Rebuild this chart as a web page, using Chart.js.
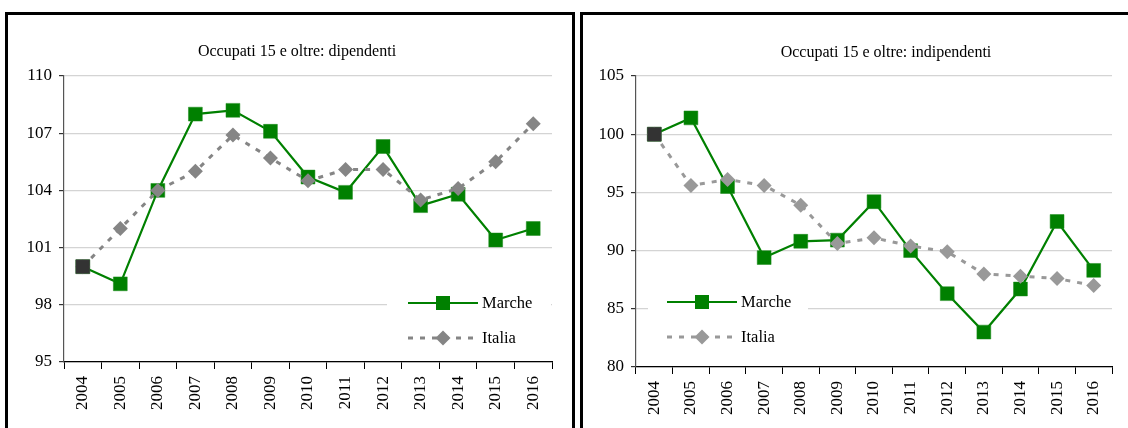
<!DOCTYPE html>
<html>
<head>
<meta charset="utf-8">
<script src="https://cdn.jsdelivr.net/npm/chart.js@4/dist/chart.umd.min.js"></script>
<style>
  html, body { margin: 0; padding: 0; background: #fff; }
  body { width: 1128px; height: 428px; overflow: hidden; position: relative; }
  .frame { position: absolute; top: 12px; height: 440px; border: 3px solid #000; box-sizing: border-box; }
  canvas { position: absolute; }
</style>
</head>
<body>
<div class="frame" style="left:5px; width:570px;"></div>
<div class="frame" style="left:580px; width:600px;"></div>
<canvas id="chart-dip" width="564" height="413" style="left:8px; top:15px;"></canvas>
<canvas id="chart-ind" width="545" height="413" style="left:583px; top:15px;"></canvas>

<script>
// data (index 2004 = 100)
const years = ['2004', '2005', '2006', '2007', '2008', '2009', '2010', '2011', '2012', '2013', '2014', '2015', '2016'];

const dipMarche = [100, 99.1, 104.0, 108.0, 108.2, 107.1, 104.7, 103.9, 106.3, 103.2, 103.8, 101.4, 102.0];
const dipItalia = [100, 102.0, 104.0, 105.0, 106.9, 105.7, 104.5, 105.1, 105.1, 103.5, 104.1, 105.5, 107.5];

const indMarche = [100, 101.4, 95.5, 89.4, 90.8, 90.9, 94.2, 90.0, 86.3, 83.0, 86.7, 92.5, 88.3];
const indItalia = [100, 95.6, 96.1, 95.6, 93.9, 90.6, 91.1, 90.4, 89.9, 88.0, 87.8, 87.6, 87.0];

// base year marker (dark square on top)
const baseYear = [100, null, null, null, null, null, null, null, null, null, null, null, null];

const seriesNames = ['Marche', 'Italia'];

Chart.defaults.font.family = '"Liberation Serif", "Times New Roman", serif';
Chart.defaults.color = '#000';

// title + legend drawn inside the panel, like the original
const panelDecor = {
    id: 'panelDecor',
    afterDraw(chart, args, opts) {
        const ctx = chart.ctx;
        ctx.save();

        // title
        ctx.fillStyle = '#000';
        ctx.font = '16px "Liberation Serif", serif';
        ctx.textAlign = 'center';
        ctx.textBaseline = 'middle';
        ctx.fillText(opts.title, opts.titleX, opts.titleY);

        // legend box
        const lg = opts.legend;
        ctx.fillStyle = '#fff';
        ctx.fillRect(lg.boxL, lg.boxT, lg.boxR - lg.boxL, lg.boxB - lg.boxT);

        chart.data.datasets.filter(ds => !ds.hideInLegend).forEach((ds, i) => {
            const y = lg.rows[i];
            ctx.beginPath();
            ctx.setLineDash(ds.borderDash || []);
            ctx.lineWidth = ds.borderWidth;
            ctx.strokeStyle = ds.borderColor;
            ctx.moveTo(lg.x0, y);
            ctx.lineTo(lg.x1, y);
            ctx.stroke();
            ctx.setLineDash([]);

            ctx.fillStyle = ds.legendColor;
            const r = ds.legendRadius;
            ctx.beginPath();
            if (ds.pointStyle === 'rectRot') {
                ctx.moveTo(lg.mx, y - r);
                ctx.lineTo(lg.mx + r, y);
                ctx.lineTo(lg.mx, y + r);
                ctx.lineTo(lg.mx - r, y);
                ctx.closePath();
            } else {
                ctx.rect(lg.mx - r, y - r, 2 * r, 2 * r);
            }
            ctx.fill();

            ctx.fillStyle = '#000';
            ctx.font = '16.5px "Liberation Serif", serif';
            ctx.textAlign = 'left';
            ctx.textBaseline = 'middle';
            ctx.fillText(ds.label, lg.tx, y + 1);
        });
        ctx.restore();
    }
};

function makeChart(id, marche, italia, yMin, yMax, yStep, italiaColor, layout) {
    const ctx = document.getElementById(id);

    const config = {
        type: 'line',
        data: {
            labels: years,
            datasets: [{
                label: seriesNames[0],
                data: marche,
                order: 2,
                borderColor: '#008000',
                borderWidth: 2.2,
                pointStyle: 'rect',
                pointRadius: 9.8,
                pointBorderWidth: 0.5,
                pointBackgroundColor: '#008000',
                pointBorderColor: '#1a8a1a',
                legendColor: '#008000',
                legendRadius: 7,
                tension: 0
            }, {
                label: seriesNames[1],
                data: italia,
                order: 1,
                borderColor: italiaColor,
                borderWidth: 3,
                borderDash: [5, 7],
                pointStyle: 'rectRot',
                pointRadius: 7.5,
                pointBorderWidth: 0,
                pointBackgroundColor: italiaColor,
                legendColor: italiaColor,
                legendRadius: 7.5,
                tension: 0
            }, {
                label: 'base',
                data: baseYear,
                order: 0,
                hideInLegend: true,
                showLine: false,
                pointStyle: 'rect',
                pointRadius: 9.8,
                pointBorderWidth: 0.5,
                pointBackgroundColor: '#333333',
                pointBorderColor: '#444444'
            }]
        },
        options: {
            responsive: false,
            animation: false,
            events: [],
            layout: {
                padding: { top: layout.top, right: layout.right, left: 0, bottom: 0 }
            },
            plugins: {
                legend: { display: false },
                title: { display: false },
                tooltip: { enabled: false },
                panelDecor: layout.decor
            },
            scales: {
                x: {
                    offset: true,
                    afterFit: (scale) => { scale.height = layout.xHeight; },
                    grid: {
                        offset: true,
                        drawOnChartArea: false,
                        drawTicks: true,
                        tickLength: 7,
                        tickColor: '#000',
                        color: '#000'
                    },
                    border: { color: '#000', width: 1.2 },
                    ticks: {
                        autoSkip: false,
                        minRotation: 90,
                        maxRotation: 90,
                        padding: 7,
                        font: { size: 17 },
                        color: '#000'
                    }
                },
                y: {
                    min: yMin,
                    max: yMax,
                    afterFit: (scale) => { scale.width = layout.yWidth; },
                    grid: {
                        color: '#d4d4d4',
                        lineWidth: 1.2,
                        tickLength: 5,
                        tickColor: '#333'
                    },
                    border: { color: '#555', width: 1.2 },
                    ticks: {
                        stepSize: yStep,
                        padding: 7,
                        font: { size: 17 },
                        color: '#000'
                    }
                }
            }
        },
        plugins: [panelDecor]
    };

    return new Chart(ctx, config);
}

makeChart('chart-dip', dipMarche, dipItalia, 95, 110, 3, '#858585', {
    top: 61, right: 20, xHeight: 66, yWidth: 56,
    decor: {
        title: 'Occupati 15 e oltre: dipendenti', titleX: 289, titleY: 37,
        legend: { boxL: 379, boxR: 543, boxT: 273, boxB: 337, x0: 400, x1: 470, mx: 435, tx: 474, rows: [288, 323] }
    }
});

makeChart('chart-ind', indMarche, indItalia, 80, 105, 5, '#999999', {
    top: 61, right: 16, xHeight: 61, yWidth: 53,
    decor: {
        title: 'Occupati 15 e oltre: indipendenti', titleX: 303, titleY: 38,
        legend: { boxL: 65, boxR: 225, boxT: 272, boxB: 336, x0: 84, x1: 154, mx: 119, tx: 158, rows: [287, 322] }
    }
});
</script>
</body>
</html>
